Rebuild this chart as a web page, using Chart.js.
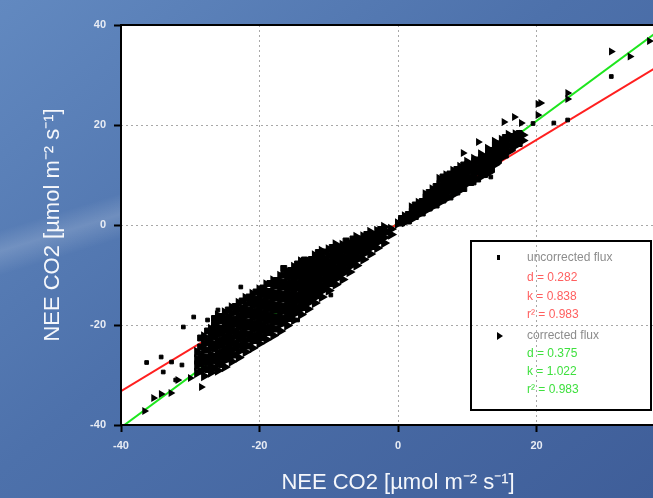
<!DOCTYPE html>
<html>
<head>
<meta charset="utf-8">
<script src="https://cdn.jsdelivr.net/npm/chart.js@4.4.1/dist/chart.umd.min.js"></script>
<style>
  html, body {
    margin: 0;
    padding: 0;
    width: 653px;
    height: 498px;
    overflow: hidden;
  }
  body {
    background:
      linear-gradient(163deg, rgba(255,255,255,0) 33%, rgba(255,255,255,0.16) 36%, rgba(255,255,255,0) 39.5%),
      linear-gradient(140deg, #6289c0 0%, #4d71ab 45%, #3f5e99 100%);
  }
  canvas { display: block; }
</style>
</head>
<body>
<canvas id="fluxChart" width="690" height="498"></canvas>
<script>
// --- DATA ---

const seriesNames = ['uncorrected flux', 'corrected flux'];
const fitD = [0.282, 0.375];   // offsets of the two regression lines
const fitK = [0.838, 1.022];   // slopes
const fitR2 = [0.983, 0.983];
const axisMin = -40;
const axisMax = 40;
const axisStep = 20;
const axisTitle = 'NEE CO2 [\u00b5mol m\u207b\u00b2 s\u207b\u00b9]';

// dense part of the cloud: [x, [y values at that x]]
const uncorrectedCols = [
  [-28.5, [-29.2, -27.7, -26.3, -24.4, -22.6]],
  [-27.5, [-28.9, -27.5, -26.4, -25, -23.3, -21.2]],
  [-26.5, [-28.6, -27.2, -26.2, -24.7, -23.8, -22.4, -21.4, -19.9, -18.7]],
  [-25.5, [-27.9, -26.5, -25.5, -24.1, -23.1, -21.7, -20.7, -19.2, -18.3]],
  [-24.5, [-26.8, -25.7, -24.3, -23.3, -21.9, -20.9, -19.5, -18.5, -17]],
  [-23.5, [-26, -24.6, -23.6, -22.2, -21.2, -19.8, -18.8, -17.4, -16.3]],
  [-22.5, [-24.9, -23.9, -22.5, -21.5, -20.1, -19.1, -17.7, -16.7, -15.2]],
  [-21.5, [-24.2, -22.8, -21.8, -20.4, -19.4, -18, -17, -15.6, -14.4]],
  [-20.5, [-23.1, -22.1, -20.7, -19.7, -18.3, -17.3, -15.9, -14.9, -13.4]],
  [-19.5, [-22.5, -21.1, -20.1, -18.7, -17.7, -16.3, -15.3, -13.9, -12.6]],
  [-18.5, [-21.5, -20.5, -19.1, -18.1, -16.7, -15.7, -14.3, -13.3, -11.7]],
  [-17.5, [-20.8, -19.4, -18.4, -17, -16, -14.6, -13.6, -12.2, -11.1]],
  [-16.5, [-19.6, -18.6, -17.2, -16.2, -14.8, -13.8, -12.4, -11.4, -10, -8.7]],
  [-15.5, [-18.7, -17.3, -16.3, -14.9, -13.9, -12.5, -11.5, -10.1, -9.1]],
  [-14.5, [-17.4, -16.4, -15, -14, -12.6, -11.6, -10.2, -9.2, -7.8]],
  [-13.5, [-16.5, -15.1, -14.1, -12.7, -11.7, -10.3, -9.3, -7.9, -7]],
  [-12.5, [-15.1, -14.1, -12.7, -11.7, -10.3, -9.3, -7.9, -6.9]],
  [-11.5, [-14.1, -12.7, -11.7, -10.3, -9.3, -7.9, -6.9, -5.5]],
  [-10.5, [-12.6, -11.6, -10.2, -9.2, -7.8, -6.8, -5.4]],
  [-9.5, [-11.7, -10.3, -9.3, -7.9, -6.9, -5.5, -4.5]],
  [-8.5, [-10.3, -9.3, -7.9, -6.9, -5.5, -4.5]],
  [-7.5, [-9.1, -7.7, -6.7, -5.3, -4.3, -3.2]],
  [-6.5, [-7.5, -6.5, -5.1, -4.1, -2.8]],
  [-5.5, [-6.6, -5.2, -4.2, -2.8]],
  [-4.5, [-5.2, -4.2, -2.8, -1.9]],
  [-3.5, [-4.3, -2.9, -1.9]],
  [-2.5, [-3.1, -1.8, -0.9]],
  [-1.5, [-1.4]],
  [0.5, [0.4, 1.3]],
  [1.5, [0.8, 2.1]],
  [2.5, [1.7, 2.7, 4]],
  [3.5, [2.4, 3.8, 4.7]],
  [4.5, [3.4, 4.4, 5.7, 6.5]],
  [5.5, [4, 5.4, 6.3, 7.7]],
  [6.5, [5, 6, 7.4, 8.3, 9.6]],
  [7.5, [5.6, 7, 8, 9.3, 10.2]],
  [8.5, [6.6, 7.6, 9, 9.9, 11.1]],
  [9.5, [7.3, 8.7, 9.7, 11.1, 12]],
  [10.5, [8.5, 9.5, 10.9, 11.9]],
  [11.5, [9.2, 10.6, 11.6, 13]],
  [12.5, [10.1, 11.1, 12.5, 13.5]],
  [13.5, [11.1, 12.5, 13.5, 14.9]],
  [14.5, [12.9, 13.9, 15.3, 16.2]],
  [15.5, [14, 15.4, 16.4, 17.5]],
  [16.5, [15.4, 16.4, 17.7]],
  [17.5, [16.3, 17.7, 18.3]]
];

const uncorrectedOutliers = [
  [-36.3, -27.5], [-34.2, -26.4], [-32.7, -27.4], [-31.2, -28], [-33.9, -29.4],
  [-32.1, -31], [-31, -20.4], [-29.5, -18.4], [-27.5, -19], [-26, -17],
  [-22.7, -12.4], [-9.7, -14], [-14.5, -19], [11, 8.4], [13.4, 9.6],
  [19.5, 20.3], [22.5, 20.4], [24.5, 21], [30.8, 29.7]
];

const correctedCols = [
  [-29, [-29.6, -28.1, -26.9, -25.4]],
  [-28, [-30.2, -28.8, -27.5, -26.4, -25.1, -23.9, -22.3]],
  [-27, [-29.5, -28.3, -27, -25.9, -24.6, -23.5, -22.1, -20.8]],
  [-26, [-29.1, -27.8, -26.7, -25.5, -24.2, -23.1, -21.8, -20.6, -19.4, -18.1]],
  [-25, [-28.4, -27.1, -26, -24.8, -23.5, -22.4, -21.1, -19.9, -18.8, -17.5]],
  [-24, [-27.3, -26.2, -25, -23.7, -22.6, -21.3, -20.2, -19, -17.7, -16.5]],
  [-23, [-26.5, -25.3, -24.1, -22.8, -21.7, -20.4, -19.3, -18.1, -16.9, -15.6]],
  [-22, [-25.4, -24.2, -23.1, -21.8, -20.6, -19.5, -18.2, -17, -15.9, -14.6]],
  [-21, [-24.6, -23.3, -22.2, -20.9, -19.8, -18.5, -17.4, -16.1, -15, -13.8]],
  [-20, [-23.7, -22.5, -21.3, -20.1, -18.9, -17.6, -16.5, -15.3, -14.1, -12.9]],
  [-19, [-22.9, -21.6, -20.5, -19.2, -18, -16.8, -15.6, -14.4, -13.2, -11.9]],
  [-18, [-22.1, -20.8, -19.6, -18.4, -17.1, -15.9, -14.8, -13.5, -12.3, -11.1]],
  [-17, [-21.2, -19.9, -18.7, -17.5, -16.3, -15, -13.9, -12.6, -11.5, -10.2]],
  [-16, [-20.1, -18.9, -17.7, -16.6, -15.3, -14.1, -12.9, -11.8, -10.5, -9.3]],
  [-15, [-19, -17.8, -16.6, -15.5, -14.2, -13, -11.9, -10.7, -9.5, -8.4]],
  [-14, [-17.9, -16.8, -15.5, -14.3, -13.2, -12, -10.8, -9.6, -8.5, -7.3]],
  [-13, [-16.8, -15.6, -14.4, -13.3, -12.1, -10.9, -9.7, -8.6, -7.4]],
  [-12, [-15.6, -14.5, -13.3, -12.1, -10.9, -9.8, -8.6, -7.4, -6.1]],
  [-11, [-14.4, -13.2, -12.1, -10.9, -9.7, -8.6, -7.4, -6.3, -5.2]],
  [-10, [-13.1, -11.9, -10.8, -9.6, -8.4, -7.3, -6.1, -4.9]],
  [-9, [-11.9, -10.8, -9.6, -8.5, -7.3, -6.2, -5, -3.9]],
  [-8, [-10.9, -9.7, -8.6, -7.4, -6.3, -5.1, -4]],
  [-7, [-9.4, -8.3, -7.1, -6, -4.8, -3.6]],
  [-6, [-8.1, -7, -5.8, -4.7, -3.5, -2.4]],
  [-5, [-6.9, -5.8, -4.7, -3.5, -2.3]],
  [-4, [-5.8, -4.6, -3.5, -2.4, -1.4]],
  [-3, [-4.6, -3.5, -2.4, -1.2]],
  [-2, [-3.6, -2.5, -1.3, -0.4]],
  [-1, [-1.9, -0.8]],
  [0, [0.3]],
  [1, [0.6, 1.7]],
  [2, [1.2, 2.3, 3.5]],
  [3, [2.1, 3.2, 4.4]],
  [4, [2.9, 4, 5.2, 6.1]],
  [5, [3.7, 4.8, 6, 7.1]],
  [6, [4.5, 5.6, 6.8, 7.9, 9.2]],
  [7, [5.3, 6.5, 7.6, 8.8, 9.9]],
  [8, [6.1, 7.3, 8.4, 9.6, 10.8]],
  [9, [7, 8.1, 9.3, 10.4, 11.6]],
  [10, [8.3, 9.4, 10.6, 11.8, 12.6]],
  [11, [9, 10.2, 11.3, 12.5, 13.2]],
  [12, [9.7, 10.9, 12, 13.2, 14.1]],
  [13, [10.4, 11.6, 12.7, 13.9, 15.2]],
  [14, [12.1, 13.3, 14.5, 15.6, 16.6]],
  [15, [13.5, 14.6, 15.8, 17]],
  [16, [14.7, 15.9, 17.1, 18]],
  [17, [15.9, 17, 18.1]],
  [18, [16.9, 18]]
];

const correctedOutliers = [
  [-36.6, -37.2], [-35.3, -34.6], [-34.2, -33.8], [-32.8, -33.6], [-31.8, -31],
  [-30, -30.6], [-28.4, -32.4], [9.4, 14.4], [11.6, 16.6], [15.3, 20.6],
  [16.8, 21.6], [17.8, 20.4], [20.2, 22], [20.2, 24.2], [20.6, 24.4],
  [24.5, 26.4], [24.5, 25.2], [30.8, 34.7], [33.5, 33.7], [36.3, 36.8]
];

// --- HELPERS ---

function toPoints(cols, extra) {
  const pts = [];
  cols.forEach(([x, ys]) => ys.forEach(y => pts.push({ x: x, y: y })));
  extra.forEach(([x, y]) => pts.push({ x: x, y: y }));
  return pts;
}

function countDense(cols) {
  return cols.reduce((n, c) => n + c[1].length, 0);
}

// isolated points are drawn smaller than the dense core
function radiusFor(cols, big, small) {
  const dense = countDense(cols);
  return c => (c.dataIndex < dense ? big : small);
}

function fitLine(i) {
  return [
    { x: axisMin, y: fitK[i] * axisMin + fitD[i] },
    { x: axisMax, y: fitK[i] * axisMax + fitD[i] }
  ];
}

const tickFont = { family: "'Liberation Sans Narrow', 'Liberation Sans', Arial, sans-serif", size: 11, weight: 'bold' };
const titleFont = { family: "'Liberation Sans', Arial, sans-serif", size: 22 };

// white plot area + black frame
const plotFrame = {
  id: 'plotFrame',
  beforeDraw(chart) {
    const a = chart.chartArea;
    const ctx = chart.ctx;
    ctx.save();
    ctx.fillStyle = '#ffffff';
    ctx.fillRect(a.left, a.top, a.right - a.left, a.bottom - a.top);
    ctx.restore();
  },
  afterDraw(chart) {
    const a = chart.chartArea;
    const ctx = chart.ctx;
    ctx.save();
    ctx.strokeStyle = '#000';
    ctx.lineWidth = 2;
    ctx.strokeRect(a.left, a.top, a.right - a.left, a.bottom - a.top);
    ctx.restore();
  }
};

// legend box with fit statistics
const fitLegend = {
  id: 'fitLegend',
  afterDraw(chart) {
    const ctx = chart.ctx;
    const bx = 471, by = 241, bw = 180, bh = 169;
    ctx.save();
    ctx.strokeStyle = '#000';
    ctx.lineWidth = 2;
    ctx.strokeRect(bx, by, bw, bh);

    ctx.font = "12px 'Liberation Sans Narrow', 'Liberation Sans', Arial, sans-serif";
    ctx.textBaseline = 'middle';
    const colors = ['#ff5f5f', '#3fe03f'];
    const rowsY = [[258, 278, 297, 315], [336, 354, 372, 390]];
    seriesNames.forEach((name, i) => {
      const r = rowsY[i];
      // marker
      ctx.fillStyle = '#000';
      ctx.beginPath();
      if (i === 0) {
        ctx.rect(497, r[0] - 3, 3, 5);
      } else {
        ctx.moveTo(497, r[0] - 4);
        ctx.lineTo(503, r[0]);
        ctx.lineTo(497, r[0] + 4);
        ctx.closePath();
      }
      ctx.fill();
      ctx.fillStyle = '#8c8c8c';
      ctx.fillText(name, 527, r[0]);
      ctx.fillStyle = colors[i];
      ctx.fillText('d = ' + fitD[i].toFixed(3), 527, r[1]);
      ctx.fillText('k = ' + fitK[i].toFixed(3), 527, r[2]);
      ctx.fillText('r\u00b2 = ' + fitR2[i].toFixed(3), 527, r[3]);
    });
    ctx.restore();
  }
};

// --- CHART ---

const ctx = document.getElementById('fluxChart').getContext('2d');
const fluxChart = new Chart(ctx, {
  type: 'scatter',
  data: {
    datasets: [
      {
        label: seriesNames[1],
        data: toPoints(correctedCols, correctedOutliers),
        pointStyle: 'triangle',
        rotation: 90,
        pointRadius: radiusFor(correctedCols, 4.5, 3),
        backgroundColor: '#000',
        borderColor: '#000',
        borderWidth: 1.5,
        order: 1
      },
      {
        label: seriesNames[0],
        data: toPoints(uncorrectedCols, uncorrectedOutliers),
        pointStyle: 'rect',
        pointRadius: radiusFor(uncorrectedCols, 4.2, 2.6),
        backgroundColor: '#000',
        borderColor: '#000',
        borderWidth: 1,
        order: 1
      },
      {
        type: 'line',
        label: 'fit ' + seriesNames[0],
        data: fitLine(0),
        borderColor: '#ff1f1f',
        borderWidth: 2,
        pointRadius: 0,
        order: 2
      },
      {
        type: 'line',
        label: 'fit ' + seriesNames[1],
        data: fitLine(1),
        borderColor: '#1ee61e',
        borderWidth: 2,
        pointRadius: 0,
        order: 2
      }
    ]
  },
  options: {
    responsive: false,
    animation: false,
    layout: { padding: { left: 0, top: 25, right: 15, bottom: 0 } },
    plugins: {
      legend: { display: false },
      tooltip: { enabled: false }
    },
    scales: {
      x: {
        type: 'linear',
        min: axisMin,
        max: axisMax,
        ticks: { stepSize: axisStep, color: '#e8ecf4', font: tickFont, padding: 7, maxRotation: 0 },
        grid: { color: '#a8a8a8', tickColor: '#000', tickLength: 7, tickWidth: 2 },
        border: { display: false, dash: [2, 3] },
        title: { display: true, text: axisTitle, color: '#f5f7fb', font: titleFont, padding: { top: 0, bottom: 2 } },
        afterFit(scale) { scale.height = 73; }
      },
      y: {
        type: 'linear',
        min: axisMin,
        max: axisMax,
        ticks: { stepSize: axisStep, color: '#e8ecf4', font: tickFont, padding: 8 },
        grid: { color: '#a8a8a8', tickColor: '#000', tickLength: 7, tickWidth: 2 },
        border: { display: false, dash: [2, 3] },
        title: { display: true, text: axisTitle, color: '#f5f7fb', font: titleFont, padding: { top: 40, bottom: 0 } },
        afterFit(scale) { scale.width = 121; }
      }
    }
  },
  plugins: [plotFrame, fitLegend]
});
</script>
</body>
</html>
